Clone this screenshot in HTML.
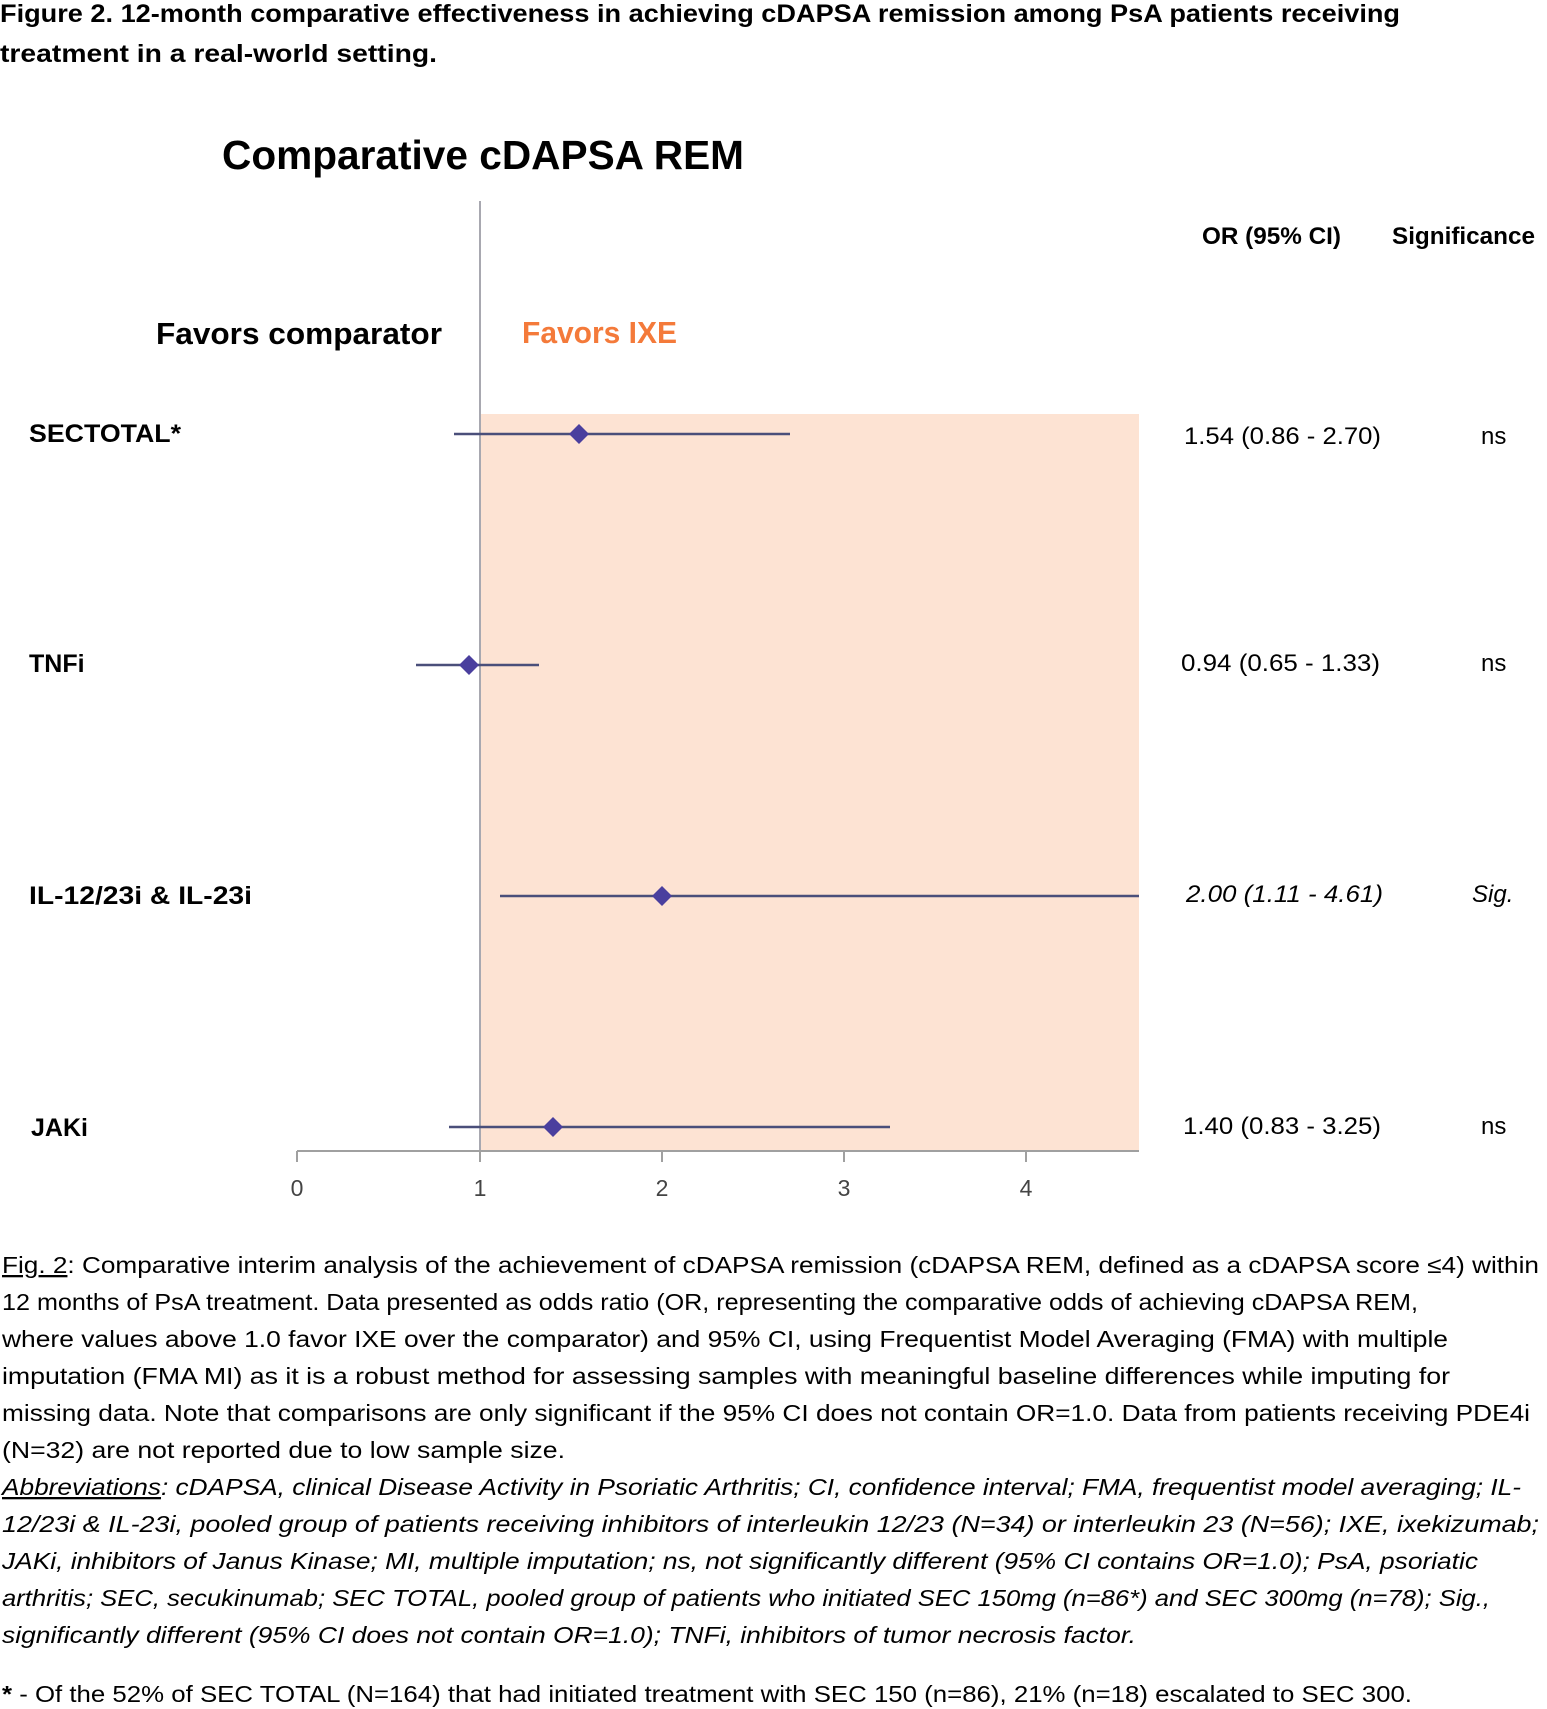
<!DOCTYPE html>
<html><head><meta charset="utf-8"><style>
html,body{margin:0;padding:0;background:#fff;}
svg{display:block;}
text{font-family:"Liberation Sans",sans-serif;}
</style></head><body>
<svg width="1547" height="1709" viewBox="0 0 1547 1709" xmlns="http://www.w3.org/2000/svg">
<g font-weight="bold" font-size="25" fill="#000">
<text x="0" y="22" textLength="1400" lengthAdjust="spacingAndGlyphs">Figure 2. 12-month comparative effectiveness in achieving cDAPSA remission among PsA patients receiving</text>
<text x="0" y="62" textLength="437" lengthAdjust="spacingAndGlyphs">treatment in a real-world setting.</text>
</g>
<text x="222" y="169" font-size="41" font-weight="bold" textLength="522" lengthAdjust="spacingAndGlyphs">Comparative cDAPSA REM</text>
<rect x="480" y="414" width="659" height="737" fill="#fde3d3"/>
<line x1="480" y1="201" x2="480" y2="1151" stroke="#a8a8b0" stroke-width="2"/>
<line x1="297" y1="1151" x2="1139" y2="1151" stroke="#a0a0a0" stroke-width="2"/>
<g stroke="#a0a0a0" stroke-width="2">
<line x1="297" y1="1151" x2="297" y2="1162"/><line x1="480" y1="1151" x2="480" y2="1162"/>
<line x1="662" y1="1151" x2="662" y2="1162"/><line x1="844" y1="1151" x2="844" y2="1162"/>
<line x1="1026" y1="1151" x2="1026" y2="1162"/>
</g>
<g font-size="23" fill="#444" text-anchor="middle">
<text x="297" y="1196">0</text><text x="480" y="1196">1</text><text x="662" y="1196">2</text><text x="844" y="1196">3</text><text x="1026" y="1196">4</text>
</g>
<text x="156" y="344" font-size="31" font-weight="bold" textLength="286" lengthAdjust="spacingAndGlyphs">Favors comparator</text>
<text x="522" y="343" font-size="31" font-weight="bold" fill="#f47a3a" textLength="155" lengthAdjust="spacingAndGlyphs">Favors IXE</text>
<text x="1202" y="244" font-size="24" font-weight="bold" textLength="139" lengthAdjust="spacingAndGlyphs">OR (95% CI)</text>
<text x="1392" y="244" font-size="24" font-weight="bold" textLength="143" lengthAdjust="spacingAndGlyphs">Significance</text>
<g font-size="25" font-weight="bold">
<text x="29" y="442" textLength="152" lengthAdjust="spacingAndGlyphs">SECTOTAL*</text>
<text x="29" y="672">TNFi</text>
<text x="29" y="904" textLength="223" lengthAdjust="spacingAndGlyphs">IL-12/23i &amp; IL-23i</text>
<text x="31" y="1136">JAKi</text>
</g>
<g stroke="#4a4f7a" stroke-width="2.5">
<line x1="454" y1="434" x2="790" y2="434"/>
<line x1="416" y1="665" x2="539" y2="665"/>
<line x1="500" y1="896" x2="1139" y2="896"/>
<line x1="449" y1="1127" x2="890" y2="1127"/>
</g>
<g fill="#4a3f9e">
<path d="M579 424 L589 434 L579 444 L569 434Z"/>
<path d="M469 655 L479 665 L469 675 L459 665Z"/>
<path d="M662 886 L672 896 L662 906 L652 896Z"/>
<path d="M553 1117 L563 1127 L553 1137 L543 1127Z"/>
</g>
<g font-size="24">
<text x="1184" y="444" textLength="197" lengthAdjust="spacingAndGlyphs">1.54 (0.86 - 2.70)</text>
<text x="1181" y="671" textLength="199" lengthAdjust="spacingAndGlyphs">0.94 (0.65 - 1.33)</text>
<text x="1186" y="902" font-style="italic" textLength="197" lengthAdjust="spacingAndGlyphs">2.00 (1.11 - 4.61)</text>
<text x="1183" y="1134" textLength="198" lengthAdjust="spacingAndGlyphs">1.40 (0.83 - 3.25)</text>
<text x="1481" y="444">ns</text>
<text x="1481" y="671">ns</text>
<text x="1472" y="902" font-style="italic">Sig.</text>
<text x="1481" y="1134">ns</text>
</g>
<g font-size="23" fill="#000">
<text x="2" y="1273" textLength="1537" lengthAdjust="spacingAndGlyphs"><tspan text-decoration="underline">Fig. 2</tspan>: Comparative interim analysis of the achievement of cDAPSA remission (cDAPSA REM, defined as a cDAPSA score ≤4) within</text>
<text x="2" y="1310" textLength="1416" lengthAdjust="spacingAndGlyphs">12 months of PsA treatment. Data presented as odds ratio (OR, representing the comparative odds of achieving cDAPSA REM,</text>
<text x="2" y="1347" textLength="1446" lengthAdjust="spacingAndGlyphs">where values above 1.0 favor IXE over the comparator) and 95% CI, using Frequentist Model Averaging (FMA) with multiple</text>
<text x="2" y="1384" textLength="1448" lengthAdjust="spacingAndGlyphs">imputation (FMA MI) as it is a robust method for assessing samples with meaningful baseline differences while imputing for</text>
<text x="2" y="1421" textLength="1528" lengthAdjust="spacingAndGlyphs">missing data. Note that comparisons are only significant if the 95% CI does not contain OR=1.0. Data from patients receiving PDE4i</text>
<text x="2" y="1458" textLength="563" lengthAdjust="spacingAndGlyphs">(N=32) are not reported due to low sample size.</text>
<g font-style="italic">
<text x="2" y="1495" textLength="1519" lengthAdjust="spacingAndGlyphs"><tspan text-decoration="underline">Abbreviations</tspan>: cDAPSA, clinical Disease Activity in Psoriatic Arthritis; CI, confidence interval; FMA, frequentist model averaging; IL-</text>
<text x="2" y="1532" textLength="1537" lengthAdjust="spacingAndGlyphs">12/23i &amp; IL-23i, pooled group of patients receiving inhibitors of interleukin 12/23 (N=34) or interleukin 23 (N=56); IXE, ixekizumab;</text>
<text x="2" y="1569" textLength="1476" lengthAdjust="spacingAndGlyphs">JAKi, inhibitors of Janus Kinase; MI, multiple imputation; ns, not significantly different  (95% CI contains OR=1.0); PsA, psoriatic</text>
<text x="2" y="1606" textLength="1488" lengthAdjust="spacingAndGlyphs">arthritis; SEC, secukinumab; SEC TOTAL, pooled group of patients who initiated SEC 150mg (n=86*) and SEC 300mg (n=78); Sig.,</text>
<text x="2" y="1643" textLength="1134" lengthAdjust="spacingAndGlyphs">significantly different  (95% CI does not contain OR=1.0); TNFi, inhibitors of tumor necrosis factor.</text>
</g>
<text x="2" y="1702" textLength="1410" lengthAdjust="spacingAndGlyphs"><tspan font-weight="bold">*</tspan> - Of the 52% of SEC TOTAL (N=164) that had initiated treatment with SEC 150 (n=86), 21% (n=18) escalated to SEC 300.</text>
</g>
</svg>
</body></html>
